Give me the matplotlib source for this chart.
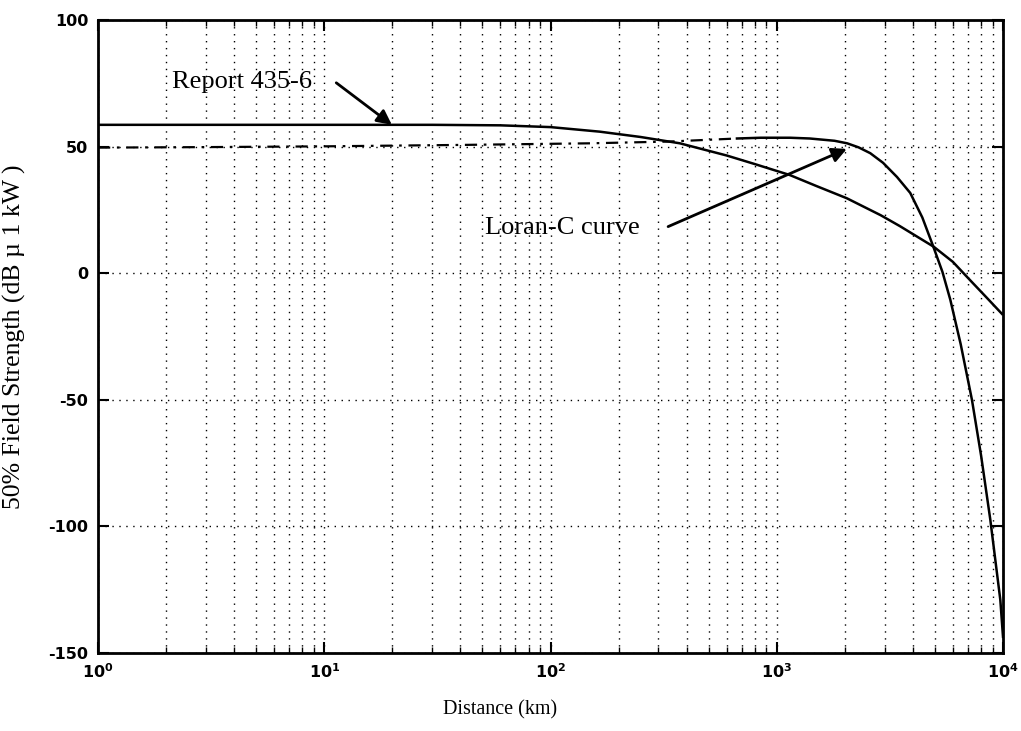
import numpy as np
import matplotlib
matplotlib.use("Agg")
import matplotlib.pyplot as plt

# Report 435-6 curve (km, dB)
report_dist = [1, 3, 10, 30, 60, 100, 165, 250, 373, 600, 800, 1140, 1500, 2040, 2880, 3500,
               4950, 6000, 7180, 8500, 10000]
report_field = [58.6, 58.6, 58.6, 58.6, 58.4, 57.7, 55.9, 53.8, 51.3, 46.5, 43.1, 38.8, 34.4,
                29.6, 22.9, 18.6, 10.4, 4.5, -2.9, -9.8, -16.5]

# Loran-C curve (km, dB); dashed up to loran_dash_end, solid afterwards
loran_dist = [1, 3, 10, 44, 150, 337, 500, 667, 850, 1145, 1400, 1800, 2047, 2300, 2590, 2950,
              3400, 3890, 4400, 4920, 5400, 5850, 6500, 7290, 8000, 8790, 9300, 9730, 10000]
loran_field = [49.6, 49.8, 50.1, 50.7, 51.3, 52.0, 52.7, 53.2, 53.5, 53.5, 53.2, 52.3, 51.3,
               49.7, 47.4, 43.6, 38.0, 31.7, 22.0, 10.5, 0.5, -10.5, -28.0, -50.0, -72.0,
               -97.4, -115.0, -129.0, -143.6]
loran_dash_end = 667

x_ticks = [1, 10, 100, 1000, 10000]
x_tick_labels = [r'$\mathbf{10^{%d}}$' % i for i in range(5)]
y_ticks = [-150, -100, -50, 0, 50, 100]

plt.rcParams['mathtext.fontset'] = 'dejavusans'

fig = plt.figure(figsize=(10.21, 7.31), dpi=100)
ax = fig.add_axes([98 / 1021, 1 - 653 / 731, 905 / 1021, 633 / 731])

ax.plot(report_dist, report_field, color='black', lw=1.8, solid_capstyle='butt')

ld = np.array(loran_dist, dtype=float)
lf = np.array(loran_field)
dash = ld <= loran_dash_end
solid = ld >= loran_dash_end
ax.plot(ld[dash], lf[dash], color='black', lw=1.6, linestyle=(0, (5.5, 3, 1.2, 3)))
ax.plot(ld[solid], lf[solid], color='black', lw=1.8)

ax.set_xscale('log')
ax.set_xlim(1, 10000)
ax.set_ylim(-150, 100)
ax.set_xticks(x_ticks)
ax.set_xticklabels(x_tick_labels)
ax.set_yticks(y_ticks)
ax.set_yticklabels([str(v) for v in y_ticks])

# dotted grid, minor lines too on x
ax.grid(True, which='major', axis='both', color='black', linestyle=(0, (1, 4)), lw=1.0)
ax.grid(True, which='minor', axis='x', color='black', linestyle=(0, (1, 4)), lw=1.0)

for s in ax.spines.values():
    s.set_linewidth(2)

ax.tick_params(which='major', direction='in', length=8, width=1.5, top=True, right=True,
               labelsize=11.5, pad=7)
ax.tick_params(which='minor', direction='in', length=4, width=1, top=True, right=True)
for lab in ax.get_yticklabels():
    lab.set_fontweight('bold')

serif = 'Liberation Serif'
ax.set_xlabel('Distance (km)', family=serif, fontsize=14.5)
ax.xaxis.set_label_coords((500 - 98) / 905, -(700 - 653) / 633)
ax.set_ylabel('50% Field Strength (dB µ 1 kW )', family=serif, fontsize=18.5)
ax.yaxis.set_label_coords((26 - 98) / 905, 0.5)

ax.text(4.33, 75.5, 'Report 435-6', family=serif, fontsize=19, ha='center', va='center')
ax.annotate('', xy=(19.9, 58.6), xytext=(11.3, 75.2),
            arrowprops=dict(arrowstyle='-|>', color='black', lw=2, mutation_scale=22,
                            shrinkA=0, shrinkB=0))

ax.text(113, 17.9, 'Loran-C curve', family=serif, fontsize=19, ha='center', va='center')
ax.annotate('', xy=(2040, 49.1), xytext=(331, 18.4),
            arrowprops=dict(arrowstyle='-|>', color='black', lw=2, mutation_scale=22,
                            shrinkA=0, shrinkB=0))

fig.savefig('out.png', dpi=100)
